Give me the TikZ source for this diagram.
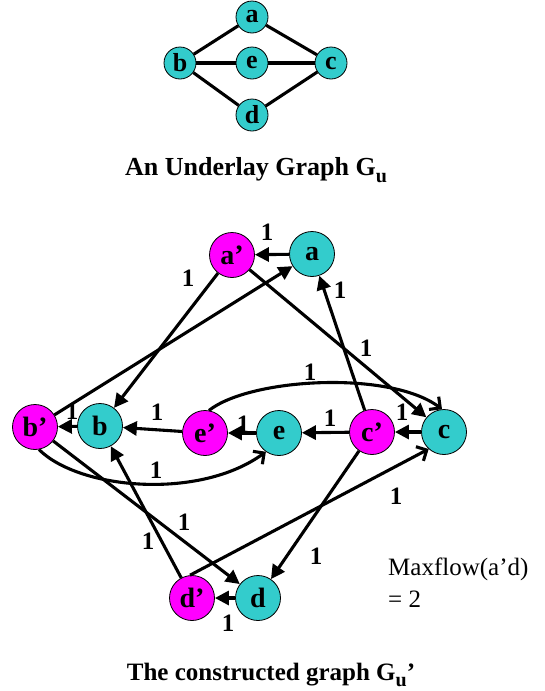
\documentclass[tikz,border=0pt]{standalone}
\usepackage{fontspec}
\setmainfont{Liberation Serif}
\usetikzlibrary{arrows.meta}
\definecolor{vcyan}{RGB}{51,204,204}
\definecolor{vmag}{RGB}{255,0,255}
\begin{document}
\begin{tikzpicture}[x=1pt,y=-1pt,
  vtx/.style={circle,draw=black,line width=0.8pt,inner sep=0pt},
  under/.style={vtx,fill=vcyan,minimum size=32pt,font=\fontsize{26}{26}\selectfont\bfseries},
  orig/.style={vtx,fill=vcyan,minimum size=45pt,font=\fontsize{28}{28}\selectfont\bfseries},
  prime/.style={orig,fill=vmag},
  link/.style={line width=3.1pt},
  arc/.style={line width=3.1pt,-{Triangle[length=14pt,width=14pt]}},
  oarc/.style={line width=3.1pt,-{Straight Barb[length=8pt,width=16pt]}},
  wt/.style={font=\fontsize{25}{25}\selectfont\bfseries,inner sep=0pt},
  captext/.style={anchor=base,inner sep=0pt,font=\fontsize{25}{25}\selectfont\bfseries}]
  \useasboundingbox (0,0) rectangle (544,691);
  \foreach \n/\x/\y in {a/252/17,b/180/63,e/252/63,c/331/63,d/252/115}
    \node[under] (u\n) at (\x,\y) {\n};
  \foreach \p/\q in {a/b,a/c,b/e,e/c,b/d,d/c} \draw[link] (u\p) -- (u\q);
  \node[captext,font=\fontsize{26}{26}\selectfont\bfseries] (capu) at (256,175) {An Underlay Graph G\raisebox{-7pt}{\fontsize{20}{20}\selectfont u}};
  \foreach \n/\x/\y in {a/312/254,b/100/426,e/279/433,c/444/432,d/258/598}
    \node[orig] (\n) at (\x,\y) {\n};
  \foreach \n/\x/\y in {a/232/255,b/35/427,e/205/433,c/372/432,d/192/598}
    \node[prime] (p\n) at (\x,\y) {\n'};
  \foreach \s/\t in {a/pa,b/pb,e/pe,c/pc,d/pd,pa/b,pb/a,pa/c,pc/a,pe/b,pc/e,pb/d,pd/b,pc/d}
    \draw[arc] (\s) -- (\t);
  \draw[oarc] (pe.80) .. controls (250,378) and (390,370) .. (c.95);
  \draw[oarc] (pb.-80) .. controls (80,490) and (200,500) .. (e.-125);
  \draw[oarc] (pd.95) -- (c.-132);
  \foreach \i/\x/\y in {1/267/232,2/188/278,3/340/290,4/366/348,5/310/372,6/402/412,
      7/72/411,8/157/412,9/243/424,10/330/418,11/156/470,12/184/522,13/148/541,
      14/396/496,15/316/556,16/228/623}
    \node[wt] (w\i) at (\x,\y) {1};
  \node[anchor=base west,inner sep=0pt,font=\fontsize{25}{25}\selectfont] (mf1) at (388,575) {Maxflow(a'd)};
  \node[anchor=base west,inner sep=0pt,font=\fontsize{25}{25}\selectfont] (mf2) at (388,607) {= 2};
  \node[captext] (capc) at (271,680) {The constructed graph G\raisebox{-6pt}{\fontsize{20}{20}\selectfont u}'};
\end{tikzpicture}
\end{document}
